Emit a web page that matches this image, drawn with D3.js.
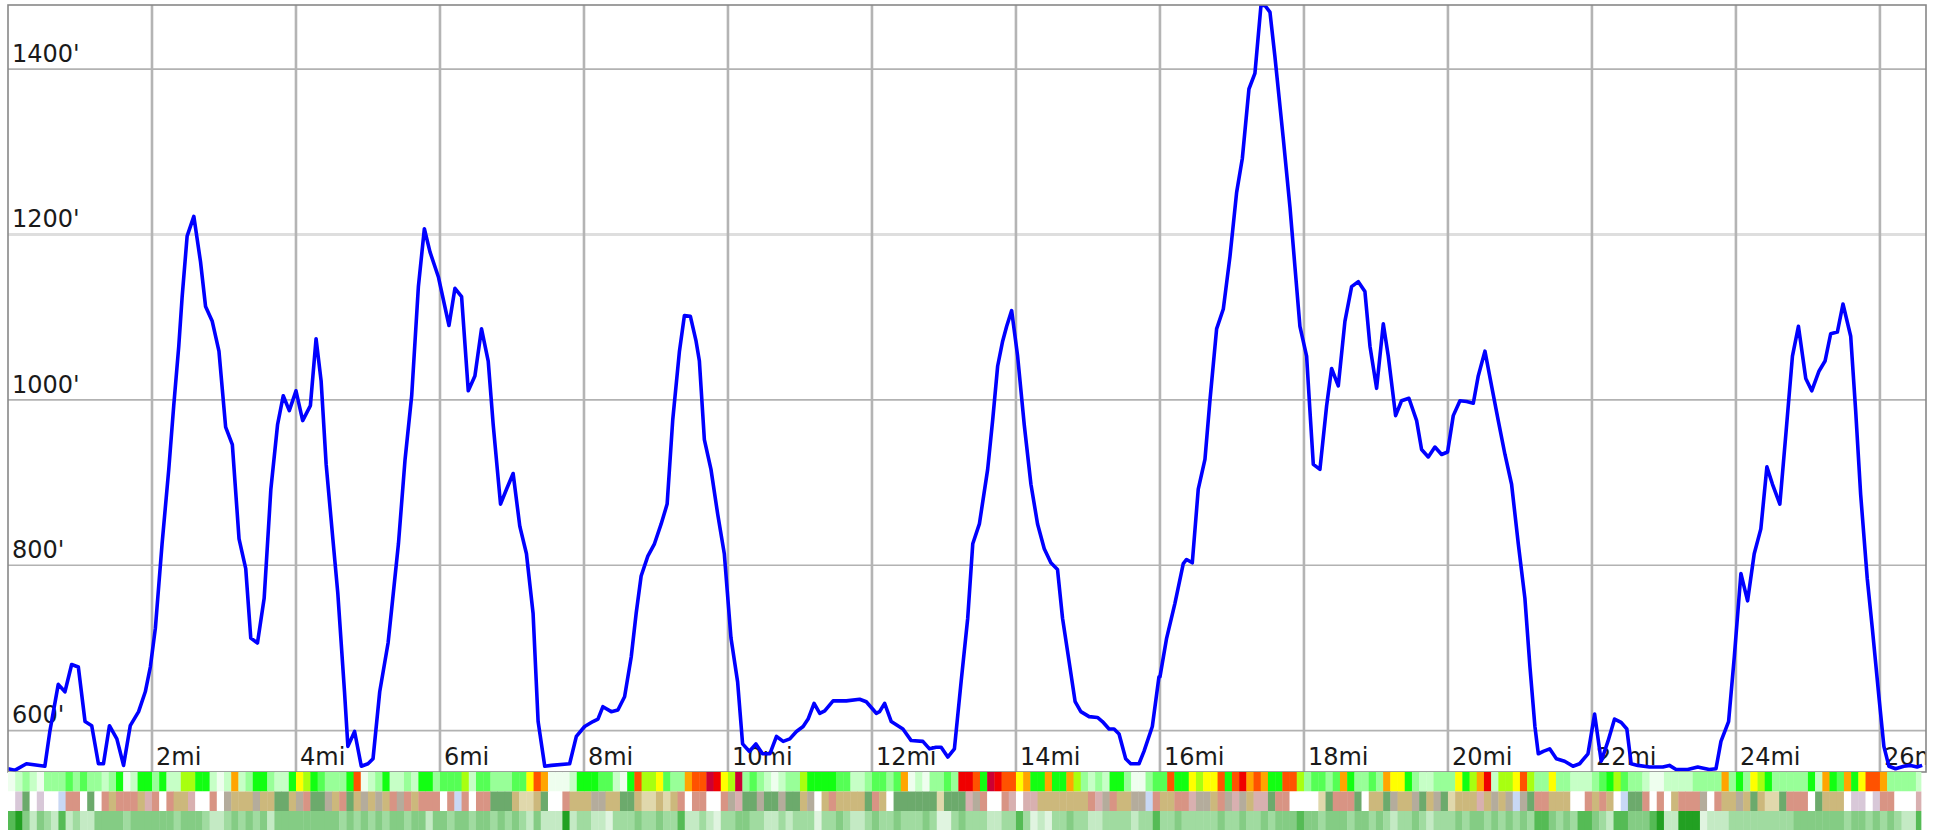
<!DOCTYPE html>
<html><head><meta charset="utf-8">
<script src="https://cdn.jsdelivr.net/npm/d3@7"></script>
<style>html,body{margin:0;padding:0;background:#fff;} svg{display:block;}</style>
</head><body>
<svg id="chart" width="1940" height="830"></svg>
<script>
// ---- data ----
const distanceMi = [
0.0,0.093,0.256,0.512,0.581,0.698,0.791,0.884,0.977,1.070,1.163,1.256,1.326,1.409,1.512,1.605,1.698,1.814,1.907,1.977,
2.047,2.140,2.233,2.302,2.372,2.419,2.488,2.581,2.674,2.744,2.837,2.930,3.023,3.116,3.209,3.302,3.372,3.465,3.558,3.651,
3.744,3.823,3.907,4.0,4.093,4.2,4.279,4.349,4.419,4.512,4.581,4.674,4.721,4.814,4.907,5.0,5.070,5.163,5.279,
5.330,5.423,5.515,5.607,5.700,5.783,5.861,5.977,6.125,6.208,6.300,6.393,6.485,6.577,6.670,6.739,6.841,6.924,7.016,7.109,
7.201,7.293,7.363,7.455,7.547,7.801,7.894,8.009,8.125,8.194,8.263,8.379,8.471,8.564,8.656,8.725,8.794,8.887,8.979,9.072,
9.155,9.233,9.326,9.395,9.478,9.557,9.603,9.672,9.764,9.857,9.949,10.042,10.134,10.203,10.296,10.388,10.480,
10.582,10.674,10.767,10.859,10.951,11.044,11.113,11.196,11.275,11.344,11.460,11.644,11.829,11.921,12.060,12.106,12.176,12.268,12.430,12.545,
12.707,12.799,12.891,12.961,13.053,13.145,13.238,13.330,13.400,13.492,13.607,13.677,13.746,13.815,13.871,13.940,14.023,14.115,14.208,14.300,
14.393,14.485,14.577,14.647,14.739,14.822,14.901,15.016,15.132,15.201,15.293,15.363,15.432,15.524,15.594,15.709,15.778,15.894,15.986,
16.0,16.093,16.208,16.324,16.370,16.449,16.532,16.625,16.694,16.787,16.880,16.972,17.065,17.144,17.236,17.319,17.403,17.458,17.528,17.597,
17.713,17.806,17.875,17.944,18.037,18.083,18.130,18.222,18.315,18.384,18.477,18.569,18.662,18.755,18.847,18.917,19.009,19.102,19.171,19.273,
19.356,19.458,19.565,19.634,19.727,19.819,19.912,19.995,20.074,20.167,20.259,20.352,20.421,20.514,20.606,20.699,20.792,20.884,20.977,21.069,
21.139,21.208,21.255,21.324,
21.413,21.506,21.621,21.737,21.829,21.945,22.037,22.129,22.222,22.314,22.406,22.485,22.545,22.637,22.799,22.984,23.076,23.169,23.330,23.469,
23.630,23.723,23.792,23.898,23.977,24.069,24.162,24.254,24.346,24.430,24.508,24.610,24.693,24.785,24.868,24.970,25.053,25.155,25.238,25.316,
25.409,25.487,25.594,25.663,25.732,25.824,25.894,25.986,26.055,26.125,26.217,26.333,26.425,26.517,26.587
];
const elevationFt = [
554,552,560,557,599,656,647,680,677,611,606,560,560,606,590,558,606,623,647,677,
724,826,916,993,1065,1125,1198,1222,1167,1113,1095,1059,967,946,832,796,712,706,760,892,
970,1005,987,1011,975,993,1074,1023,922,832,766,647,581,599,557,560,566,647,706,
748,826,928,1005,1137,1207,1179,1149,1090,1135,1125,1011,1029,1086,1047,970,874,892,911,847,
814,742,611,557,558,560,593,605,611,614,629,623,625,641,689,742,787,811,826,850,
874,976,1059,1102,1101,1071,1047,952,916,862,814,712,659,584,575,584,572,
572,593,587,590,599,605,614,633,621,624,636,636,638,635,621,623,633,611,602,588,
587,578,580,580,568,578,659,736,826,850,916,976,1041,1071,1089,1108,1053,970,898,850,
820,803,795,736,683,635,623,617,616,611,602,602,596,566,560,560,575,605,665,
665,712,754,802,807,803,892,928,999,1086,1110,1173,1251,1292,1376,1395,1477,1477,1469,1415,
1316,1233,1161,1089,1053,987,922,916,993,1038,1017,1095,1137,1143,1131,1065,1014,1092,1053,981,
999,1002,975,940,931,943,934,937,981,999,998,996,1029,1059,1017,975,934,898,826,760,
677,605,572,575,
578,566,563,557,560,572,620,563,587,614,610,602,560,558,556,556,558,553,553,556,
553,554,587,611,689,790,757,814,844,919,898,874,958,1053,1089,1026,1011,1035,1047,1080,
1082,1116,1077,987,886,784,724,641,581,557,554,557,558,556,558
];
const xTickMiles = [2,4,6,8,10,12,14,16,18,20,22,24,26];
const yTickFeet = [600,800,1000,1200,1400];

// colour strips, one code per 0.1 mile
const stripCellMi = 0.1;
const stripEndMi = 26.57;
const effortCodes = [
"wplpw","lllml","mllpl","gwpgg","lgppy","yggpw","poplg","glppg","Yygml","llgOw","plgpp",
"lpggl","mmmyp","mmlll","mmYOo","wwwpg","ggmmp","wgOyy","Ymllo","OOcrY","yclml","pwpll",
"ygggg","mmppl","mmlmo","wpwll","mlrrO","gcrOO","Yoggo","ggoyl","plpgg","lwwlm","mOggY","y",
"YYOgO","roOog","gOOyl","mmlmo","gllml","oYYgl","pplll","Ygyor","pyyYO","yllYl","lpppl",
"mgyml","lpwwp","pppll","llolg","lYygl","llllg","pogmo","gYOOo","llllp"].join("");
const surfaceCodes = [
"wvgwv","wwbss","wgwst","ssstp","swstt","pwwsw","ktttk","ttggt","ksggk","tsgtk","tktsk",
"stsss","wsbsw","ssggg","teetg","wwstt","tkktt","ggtee","tetsw","sswws","kpggk","ggkgg",
"tkwts","ttttg","stwgg","gggge","gggpk","swwsp","wpptt","ttttt","spkst","tkkbs","ttssp","k",
"ktskp","ktppg","sswww","wegss","sgwtt","gkttk","gtkge","tttpt","ktkbk","gsstt","twwst",
"stwbg","gswsw","tsssk","wsttk","tgtee","gsssw","gtttw","vvwvs","swwwp"].join("");
const coverCodes = [
"45313","21412","11333","32333","33323","33211","23232","31333","33333","32323","23233",
"23313","32332","33232","32131","11512","21102","22322","32241","12102","23322","11212",
"22022","32112","32232","22320","02322","21122","42010","22322","11222","21224","22322","2",
"22322","32232","33343","32333","23323","21223","21222","32332","32323","24432","32443",
"21443","33451","15550","11122","22222","22333","33332","33232","32114"].join("");

const effortColors = {w:"#eefeee",p:"#c6ffc6",l:"#98ff98",m:"#55ff55",g:"#12ff12",y:"#a8ff10",
  Y:"#ffff00",o:"#ffa500",O:"#ff5200",r:"#f00000",c:"#cc0033"};
const surfaceColors = {w:"#ffffff",v:"#d8c8d8",b:"#c8d8f4",s:"#d89484",t:"#ccb87c",k:"#b4ac9c",
  g:"#6caa6c",e:"#e0d8ac",p:"#d8b0b0"};
const coverColors = {"0":"#e0f4e0","1":"#c4eac4","2":"#a0dba0","3":"#84cc84","4":"#55bb55","5":"#22a022"};

// ---- layout ----
const plot = {left:8, right:1926, top:5, bottom:772};
const strips = [
  {codes:effortCodes, colors:effortColors, y0:772, y1:791.5},
  {codes:surfaceCodes, colors:surfaceColors, y0:791.5, y1:811},
  {codes:coverCodes, colors:coverColors, y0:811, y1:830}
];

const svg = d3.select("#chart");
const x = d3.scaleLinear().domain([0, 26.64]).range([plot.left, plot.right]);
const y = d3.scaleLinear().domain([550, 1477.6]).range([plot.bottom, plot.top]);

svg.append("defs").append("clipPath").attr("id","plotclip")
  .append("rect").attr("x",plot.left).attr("y",plot.top)
  .attr("width",plot.right-plot.left).attr("height",plot.bottom-plot.top);

const g = svg.append("g").attr("clip-path","url(#plotclip)");

// horizontal grid
g.selectAll("line.hg").data(yTickFeet).join("line").attr("class","hg")
  .attr("x1",plot.left).attr("x2",plot.right)
  .attr("y1",d=>y(d)).attr("y2",d=>y(d))
  .attr("stroke",d=>d===1200?"#dedede":"#b2b2b2")
  .attr("stroke-width",d=>d===1200?3:1.6);

// vertical grid
g.selectAll("line.vg").data(xTickMiles).join("line").attr("class","vg")
  .attr("x1",d=>x(d)).attr("x2",d=>x(d))
  .attr("y1",plot.top).attr("y2",plot.bottom)
  .attr("stroke","#b4b4b4").attr("stroke-width",2.6);

// labels
g.selectAll("text.yl").data(yTickFeet).join("text").attr("class","yl")
  .attr("x",plot.left+4).attr("y",d=>y(d)-7.4)
  .attr("font-family","DejaVu Sans").attr("font-size",24).attr("fill","#1a1a1a")
  .text(d=>d+"'");
g.selectAll("text.xl").data(xTickMiles).join("text").attr("class","xl")
  .attr("x",d=>x(d)+4).attr("y",765)
  .attr("font-family","DejaVu Sans").attr("font-size",24).attr("fill","#1a1a1a")
  .text(d=>d+"mi");

// elevation line
const pts = distanceMi.map((d,i)=>[d, elevationFt[i]]);
g.append("path").datum(pts)
  .attr("fill","none").attr("stroke","#0000ff").attr("stroke-width",3.6)
  .attr("stroke-linejoin","round")
  .attr("d", d3.line().x(d=>x(d[0])).y(d=>y(d[1])));

// border
svg.append("rect").attr("x",plot.left).attr("y",plot.top)
  .attr("width",plot.right-plot.left).attr("height",plot.bottom-plot.top)
  .attr("fill","none").attr("stroke","#888").attr("stroke-width",1.6);

// strips
strips.forEach(s=>{
  const cells = s.codes.split("").map((c,i)=>({c, a:i*stripCellMi, b:Math.min((i+1)*stripCellMi, stripEndMi)}))
    .filter(d=>d.b>d.a);
  svg.append("g").selectAll("rect").data(cells).join("rect")
    .attr("x",d=>x(d.a)).attr("width",d=>x(d.b)-x(d.a)+0.4)
    .attr("y",s.y0).attr("height",s.y1-s.y0)
    .attr("fill",d=>s.colors[d.c]);
});
</script>
</body></html>
